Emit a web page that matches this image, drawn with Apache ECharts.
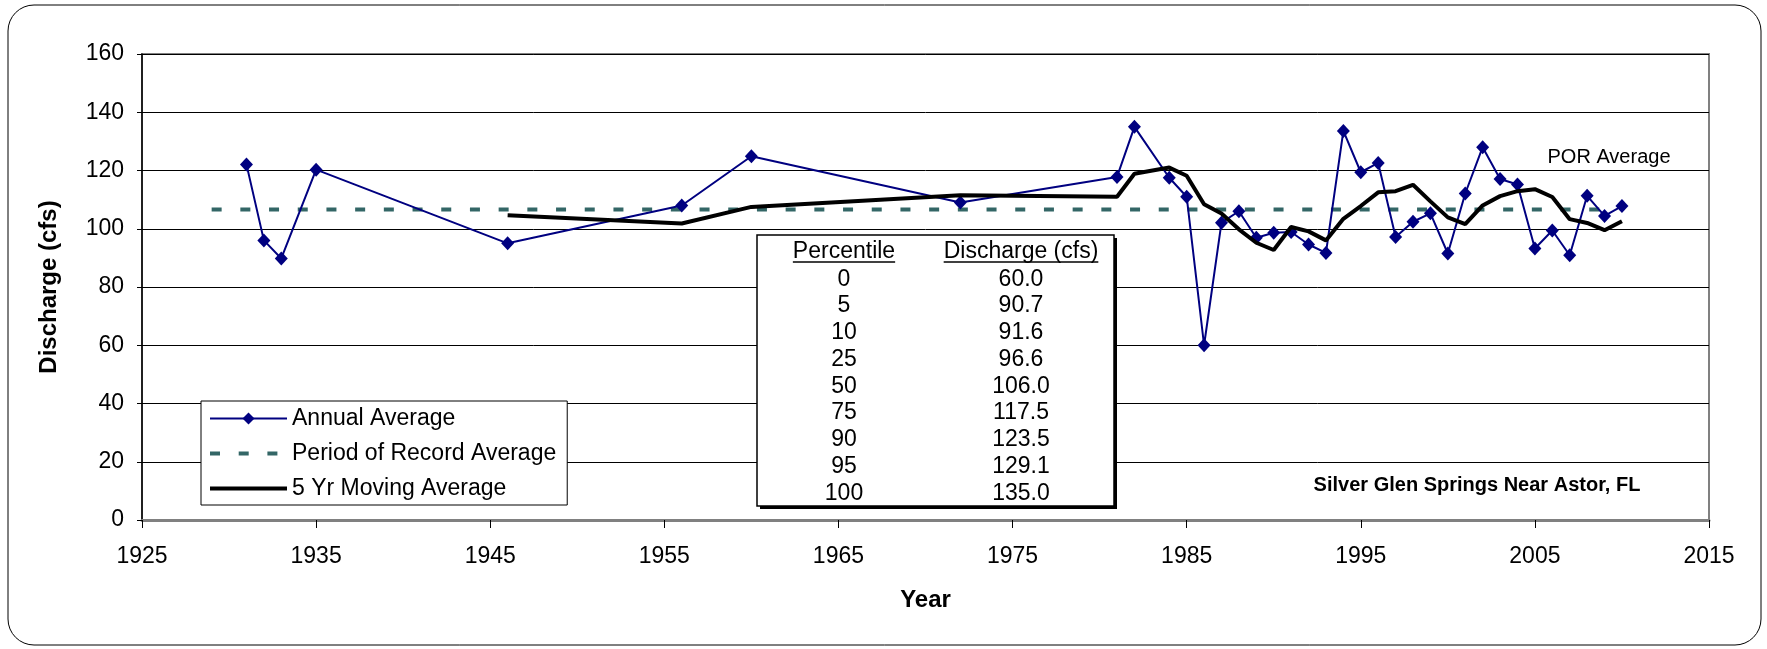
<!DOCTYPE html>
<html>
<head>
<meta charset="utf-8">
<title>Silver Glen Springs Near Astor, FL</title>
<script src="https://cdn.jsdelivr.net/npm/echarts@6.0.0/dist/echarts.min.js"></script>
<style>
    html, body { margin: 0; padding: 0; background: #fff; }
    #chart { width: 1767px; height: 649px; }
</style>
</head>
<body>
<div id="chart"></div>
<script>
// annual average discharge (cfs)
var years = [1931, 1932, 1933, 1935, 1946, 1956, 1960, 1972, 1981, 1982,
    1984, 1985, 1986, 1987, 1988, 1989, 1990, 1991, 1992, 1993,
    1994, 1995, 1996, 1997, 1998, 1999, 2000, 2001, 2002, 2003,
    2004, 2005, 2006, 2007, 2008, 2009, 2010];
var annualAvg = [122.1, 96.0, 89.8, 120.3, 95.0, 108.0, 124.9, 109.0, 117.8, 135.0,
    117.5, 111.0, 60.0, 102.1, 106.0, 96.9, 98.6, 98.9, 94.6, 91.7,
    133.6, 119.4, 122.6, 97.2, 102.4, 105.3, 91.5, 112.1, 128.0, 117.1,
    115.2, 93.2, 99.4, 90.9, 111.3, 104.4, 107.8];
// 5 yr moving average starts with the 5th record (1946)
var maYears = years.slice(4);
var movingAvg = [104.6, 101.8, 107.5, 111.5, 111.0, 118.9,
    121.0, 118.2, 108.4, 105.2, 99.8, 95.2, 92.7, 100.6, 99.1, 96.0,
    103.4, 107.8, 112.5, 112.9, 115.1, 109.4, 103.9, 101.6, 108.0, 111.2,
    112.9, 113.6, 110.9, 103.3, 102.0, 99.5, 102.6];
// period of record average
var porYears = [1929, 2009];
var porAvg = [106.6, 106.6];
// percentile table
var percentiles = ["0", "5", "10", "25", "50", "75", "90", "95", "100"];
var pctDischarge = ["60.0", "90.7", "91.6", "96.6", "106.0", "117.5", "123.5", "129.1", "135.0"];

var font = '"Liberation Sans", Arial, Helvetica, sans-serif';

function pairs(xs, ys) {
    return xs.map(function(x, i) {
        return [x, ys[i]];
    });
}

// text width for the underlines in the table
var measureCtx = document.createElement("canvas").getContext("2d");
function textWidth(t, size) {
    measureCtx.font = size + "px " + font;
    return measureCtx.measureText(t).width;
}

var graphics = [];
// outer rounded frame
graphics.push({
    type: "rect",
    shape: { x: 8, y: 5, width: 1753, height: 640, r: 26 },
    style: { fill: null, stroke: "#000", lineWidth: 1 },
    z: 0
});
// percentile table box with shadow
graphics.push({
    type: "rect",
    shape: { x: 760, y: 238, width: 357, height: 271 },
    style: { fill: "#000" },
    z: 100
});
graphics.push({
    type: "rect",
    shape: { x: 757, y: 235, width: 357, height: 271 },
    style: { fill: "#fff", stroke: "#000", lineWidth: 1.5 },
    z: 101
});
var colX = [844, 1021];
var headers = ["Percentile", "Discharge (cfs)"];
headers.forEach(function(h, i) {
    graphics.push({
        type: "text",
        x: colX[i],
        y: 251.5,
        style: { text: h, fontSize: 23, fontFamily: font, fill: "#000", align: "center", verticalAlign: "middle" },
        z: 102
    });
    var w = textWidth(h, 23);
    graphics.push({
        type: "line",
        shape: { x1: colX[i] - w / 2, y1: 262, x2: colX[i] + w / 2, y2: 262 },
        style: { stroke: "#000", lineWidth: 1.5 },
        z: 102
    });
});
percentiles.forEach(function(p, i) {
    var y = 279.3 + i * 26.75;
    graphics.push({
        type: "text", x: colX[0], y: y,
        style: { text: p, fontSize: 23, fontFamily: font, fill: "#000", align: "center", verticalAlign: "middle" },
        z: 102
    });
    graphics.push({
        type: "text", x: colX[1], y: y,
        style: { text: pctDischarge[i], fontSize: 23, fontFamily: font, fill: "#000", align: "center", verticalAlign: "middle" },
        z: 102
    });
});
// labels inside the plot
graphics.push({
    type: "text", x: 1609, y: 157,
    style: { text: "POR Average", fontSize: 20, fontFamily: font, fill: "#000", align: "center", verticalAlign: "middle" },
    z: 102
});
graphics.push({
    type: "text", x: 1477, y: 485,
    style: { text: "Silver Glen Springs Near Astor, FL", fontSize: 20, fontWeight: "bold", fontFamily: font, fill: "#000", align: "center", verticalAlign: "middle" },
    z: 102
});

var myChart = echarts.init(document.getElementById("chart"));
myChart.setOption({
    animation: false,
    backgroundColor: "#fff",
    textStyle: { fontFamily: font },
    grid: {
        left: 142,
        right: 58,
        top: 54,
        bottom: 129,
        show: true,
        borderColor: "#808080",
        borderWidth: 2
    },
    legend: {
        orient: "vertical",
        left: 201,
        top: 401,
        padding: [6, 11, 5, 7],
        itemGap: 12,
        itemWidth: 77,
        itemHeight: 15,
        backgroundColor: "#fff",
        borderColor: "#000",
        borderWidth: 1,
        lineStyle: { width: "inherit", type: "inherit" },
        textStyle: { fontSize: 23, color: "#000", fontFamily: font },
        data: [
            { name: "Annual Average" },
            // no marker in the legend for the plain lines
            { name: "Period of Record Average", itemStyle: { color: "rgba(0,0,0,0)", borderWidth: 0 } },
            { name: "5 Yr Moving Average", itemStyle: { color: "rgba(0,0,0,0)", borderWidth: 0 } }
        ]
    },
    xAxis: {
        type: "value",
        min: 1925,
        max: 2015,
        interval: 10,
        name: "Year",
        nameLocation: "middle",
        nameGap: 68,
        nameTextStyle: { fontSize: 24, fontWeight: "bold", color: "#000", fontFamily: font },
        axisLine: { lineStyle: { color: "#808080", width: 3 } },
        axisTick: { show: true, length: 8, lineStyle: { color: "#000", width: 1 } },
        axisLabel: {
            fontSize: 23,
            color: "#000",
            margin: 25,
            fontFamily: font,
            formatter: function(v) {
                return String(v);
            }
        },
        splitLine: { show: false }
    },
    yAxis: {
        type: "value",
        min: 0,
        max: 160,
        interval: 20,
        name: "Discharge (cfs)",
        nameLocation: "middle",
        nameGap: 81,
        nameTextStyle: { fontSize: 24, fontWeight: "bold", color: "#000", fontFamily: font },
        axisLine: { show: true, lineStyle: { color: "#000", width: 1.5 } },
        axisTick: { show: true, length: 5, lineStyle: { color: "#000", width: 1 } },
        axisLabel: { fontSize: 23, color: "#000", margin: 18, fontFamily: font },
        splitLine: { show: true, lineStyle: { color: "#000", width: 1 } }
    },
    graphic: graphics,
    series: [
        {
            name: "Annual Average",
            type: "line",
            data: pairs(years, annualAvg),
            symbol: "diamond",
            symbolSize: [13, 14],
            itemStyle: { color: "#000080" },
            lineStyle: { color: "#000080", width: 2 },
            z: 3
        },
        {
            name: "Period of Record Average",
            type: "line",
            data: pairs(porYears, porAvg),
            symbol: "none",
            lineStyle: { color: "#336666", width: 4, type: [10, 18.7] },
            itemStyle: { color: "#336666" },
            z: 2
        },
        {
            name: "5 Yr Moving Average",
            type: "line",
            data: pairs(maYears, movingAvg),
            symbol: "none",
            lineStyle: { color: "#000", width: 4 },
            itemStyle: { color: "#000" },
            z: 4
        }
    ]
});
</script>
</body>
</html>
